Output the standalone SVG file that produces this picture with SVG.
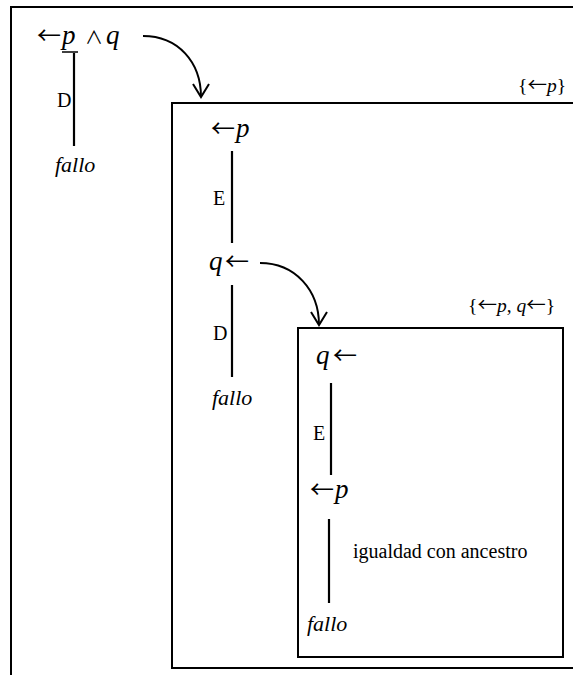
<svg xmlns="http://www.w3.org/2000/svg" width="573" height="675" viewBox="0 0 573 675">
  <defs>
    <marker id="vhead" viewBox="-16 -10 18 20" refX="0" refY="0" markerWidth="18" markerHeight="20" markerUnits="userSpaceOnUse" orient="auto">
      <path d="M-13,-8 L0,0 L-13,8" fill="none" stroke="#000" stroke-width="2"/>
    </marker>
    <style>
      .frame { fill: none; stroke: #000; stroke-width: 2; }
      .edge { stroke: #000; stroke-width: 2.2; }
      .curve { fill: none; stroke: #000; stroke-width: 2; }
      .tx { font-family: "Liberation Serif", "Times New Roman", serif; fill: #000; }
      .goal { font-size: 27px; }
      .lbl { font-size: 20px; }
      .fail { font-size: 22px; font-style: italic; }
      .set { font-size: 19.5px; }
      .it { font-style: italic; }
      .ar { font-family: "Noto Sans CJK JP", "DejaVu Sans", sans-serif; }
      .goal .ar { font-size: 24px; }
      .and { font-family: "Noto Sans CJK JP", "DejaVu Sans", sans-serif; font-size: 18px; }
    </style>
  </defs>

  <!-- nested derivation frames -->
  <g id="frames">
    <rect id="frame-outer" class="frame" x="11" y="7" width="600" height="700"/>
    <rect id="frame-p" class="frame" x="172" y="103" width="440" height="565"/>
    <rect id="frame-pq" class="frame" x="298" y="328" width="265" height="329"/>
  </g>

  <!-- derivation steps and calls into sub-derivations -->
  <g id="connectors">
    <line class="edge" x1="74" y1="53" x2="74" y2="146"/>
    <line class="edge" x1="232" y1="151" x2="232" y2="243"/>
    <line class="edge" x1="232" y1="285" x2="232" y2="377"/>
    <line class="edge" x1="331" y1="383" x2="331" y2="475"/>
    <line class="edge" x1="329" y1="519" x2="329" y2="603"/>
    <path class="curve" d="M143,36 C178,36 201,62 201,97" marker-end="url(#vhead)"/>
    <path class="curve" d="M260,263 C295,263 319,290 319,325" marker-end="url(#vhead)"/>
  </g>

  <g id="goal-root">
    <text class="tx goal" y="44"><tspan class="ar" x="37">←</tspan><tspan class="it" x="62">p</tspan><tspan class="and" x="85">∧</tspan><tspan class="it" x="106">q</tspan></text>
    <line x1="62" y1="52" x2="78" y2="52" stroke="#000" stroke-width="1.5"/>
  </g>
  <g id="label-d1"><text class="tx lbl" x="57" y="107">D</text></g>
  <g id="fail-1"><text class="tx fail" x="55" y="172">fallo</text></g>

  <g id="set-p"><text class="tx set" x="518" y="92">{<tspan class="ar">←</tspan><tspan class="it">p</tspan>}</text></g>
  <g id="goal-p"><text class="tx goal" y="137"><tspan class="ar" x="211">←</tspan><tspan class="it" x="236">p</tspan></text></g>
  <g id="label-e1"><text class="tx lbl" x="213" y="205">E</text></g>
  <g id="goal-q"><text class="tx goal" y="270"><tspan class="it" x="209">q</tspan><tspan class="ar" x="225">←</tspan></text></g>
  <g id="label-d2"><text class="tx lbl" x="213" y="340">D</text></g>
  <g id="fail-2"><text class="tx fail" x="212" y="405">fallo</text></g>

  <g id="set-pq"><text class="tx set" x="468" y="312">{<tspan class="ar">←</tspan><tspan class="it">p</tspan>, <tspan class="it">q</tspan><tspan class="ar">←</tspan>}</text></g>
  <g id="goal-q2"><text class="tx goal" y="364"><tspan class="it" x="316">q</tspan><tspan class="ar" x="333">←</tspan></text></g>
  <g id="label-e2"><text class="tx lbl" x="313" y="440">E</text></g>
  <g id="goal-p2"><text class="tx goal" y="498"><tspan class="ar" x="310">←</tspan><tspan class="it" x="335">p</tspan></text></g>
  <g id="label-anc"><text class="tx lbl" x="353" y="558">igualdad con ancestro</text></g>
  <g id="fail-3"><text class="tx fail" x="307" y="631">fallo</text></g>
</svg>
